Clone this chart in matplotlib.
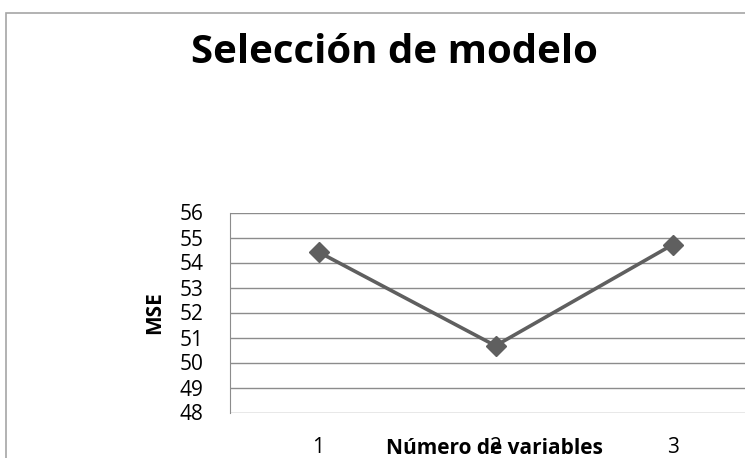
import matplotlib
matplotlib.use("Agg")
import matplotlib.pyplot as plt
from matplotlib.patches import Rectangle

# data
n_variables = [1, 2, 3]
tick_labels = ["1", "2", "3"]
mse = [54.42, 50.67, 54.71]
y_ticks = [48, 49, 50, 51, 52, 53, 54, 55, 56]

plt.rcParams["font.family"] = ["Open Sans", "DejaVu Sans"]

W, H = 745, 458
fig = plt.figure(figsize=(W / 100, H / 100), dpi=100)

# chart area border (runs off the right and bottom edges)
fig.patches.append(Rectangle((6 / W, -0.1), 1.2, 1 - 12.5 / H + 0.1,
                             transform=fig.transFigure, fill=False,
                             edgecolor="#a6a6a6", linewidth=1.2))

# plot area: 230..761 px wide, 212.5..412.5 px tall
ax = fig.add_axes([230 / W, 1 - 412.5 / H, 531 / W, 200 / H])
ax.plot(n_variables, mse, color="#5f5f5f", linewidth=2.6,
        marker="D", markersize=10, zorder=3, clip_on=False)

ax.set_xlim(0.5, 3.5)
ax.set_ylim(48, 56)
ax.set_yticks(y_ticks)
ax.set_xticks(n_variables)
ax.set_xticklabels(tick_labels)
ax.grid(axis="y", color="#8c8c8c", linewidth=1)
ax.set_axisbelow(True)
for side in ["top", "right", "bottom"]:
    ax.spines[side].set_visible(False)
ax.spines["left"].set_color("#8c8c8c")
ax.tick_params(axis="both", length=0, labelsize=15, colors="black")
ax.tick_params(axis="x", pad=17.5)
ax.tick_params(axis="y", pad=19)

fig.text(494 / W, 1 - 454 / H, "Número de variables", ha="center", va="baseline",
         fontsize=15, fontweight="bold")
fig.text(155 / W, 1 - 313 / H, "MSE", ha="center", va="center", rotation=90,
         fontsize=15, fontweight="bold")
fig.text(394 / W, 1 - 63 / H, "Selección de modelo", ha="center", va="baseline",
         fontsize=29, fontweight="bold")

fig.savefig("out.png", dpi=100)
